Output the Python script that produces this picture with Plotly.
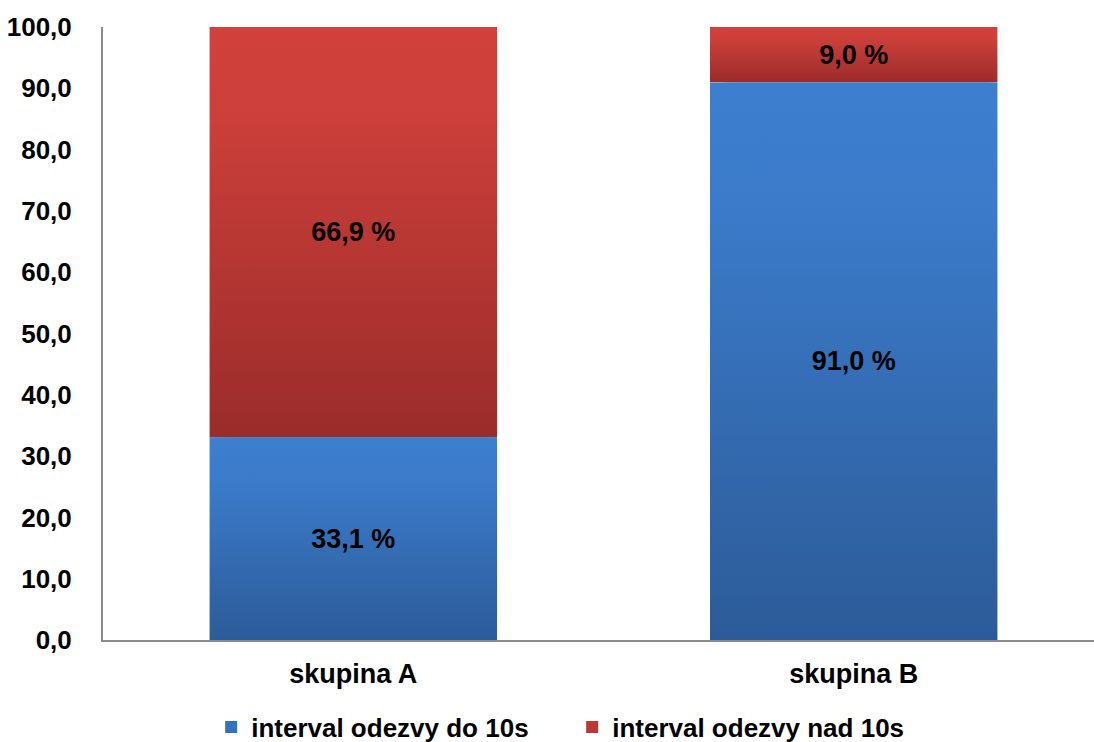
import base64
import plotly.graph_objects as go

# Data
categories = ["skupina A", "skupina B"]
series_names = ["interval odezvy do 10s", "interval odezvy nad 10s"]
do_10s = [33.1, 91.0]
nad_10s = [66.9, 9.0]
y_ticks = [0, 10, 20, 30, 40, 50, 60, 70, 80, 90, 100]

# Styling
BAR_WIDTH = 0.575
GRADIENTS = {
    "blue": [("0%", "#3e7ecf"), ("22%", "#3b7bca"), ("100%", "#2c5b98")],
    "red": [("0%", "#d2413c"), ("22%", "#cc3f3a"), ("100%", "#9a2c2a")],
}
SWATCH = {"blue": "#3572bd", "red": "#bb3834"}
FONT = "Liberation Sans, Arial, sans-serif"


def gradient_svg(stops):
    stop_tags = "".join(
        f'<stop offset="{o}" stop-color="{c}"/>' for o, c in stops
    )
    svg = (
        '<svg xmlns="http://www.w3.org/2000/svg" width="100" height="100" '
        'preserveAspectRatio="none" viewBox="0 0 100 100">'
        f'<defs><linearGradient id="g" x1="0" y1="0" x2="0" y2="1">{stop_tags}'
        '</linearGradient></defs>'
        '<rect x="0" y="0" width="100" height="100" fill="url(#g)"/></svg>'
    )
    return "data:image/svg+xml;base64," + base64.b64encode(svg.encode()).decode()


def shadow_svg():
    svg = (
        '<svg xmlns="http://www.w3.org/2000/svg" width="100" height="100" '
        'preserveAspectRatio="none" viewBox="0 0 100 100">'
        '<defs><filter id="b" x="-20%" y="-20%" width="140%" height="140%">'
        '<feGaussianBlur stdDeviation="1.2"/></filter></defs>'
        '<rect x="4" y="4" width="92" height="92" fill="rgba(0,0,0,0.28)" '
        'filter="url(#b)"/></svg>'
    )
    return "data:image/svg+xml;base64," + base64.b64encode(svg.encode()).decode()


fig = go.Figure()

series = [(series_names[0], do_10s, "blue"), (series_names[1], nad_10s, "red")]

# Bars (transparent fill; the gradient is painted underneath as layout images)
for name, values, key in series:
    fig.add_trace(
        go.Bar(
            x=categories,
            y=values,
            name=name,
            width=BAR_WIDTH,
            marker=dict(color="rgba(0,0,0,0)", line=dict(width=0)),
            texttemplate="%{y:.1f} %",
            textposition="inside",
            insidetextanchor="middle",
            textangle=0,
            textfont=dict(family=FONT, size=27, color="#000000", weight="bold"),
            showlegend=False,
            hoverinfo="skip",
        )
    )

# Legend entries
for name, values, key in series:
    fig.add_trace(
        go.Scatter(
            x=[None],
            y=[None],
            mode="markers",
            name=name,
            marker=dict(symbol="square", size=14, color=SWATCH[key]),
        )
    )

# Gradient fills and drop shadows positioned in data coordinates
images = []
for i, cat in enumerate(categories):
    total = do_10s[i] + nad_10s[i]
    images.append(
        dict(
            source=shadow_svg(),
            xref="x", yref="y",
            x=i - BAR_WIDTH / 2 + 0.006, y=total - 0.4,
            sizex=BAR_WIDTH + 0.008, sizey=total + 1.4,
            xanchor="left", yanchor="top",
            sizing="stretch", layer="below",
        )
    )
    base = 0.0
    for name, values, key in series:
        top = base + values[i]
        images.append(
            dict(
                source=gradient_svg(GRADIENTS[key]),
                xref="x", yref="y",
                x=i - BAR_WIDTH / 2, y=top,
                sizex=BAR_WIDTH, sizey=values[i],
                xanchor="left", yanchor="top",
                sizing="stretch", layer="below",
            )
        )
        base = top

fig.update_layout(
    images=images,
    barmode="stack",
    width=1094,
    height=742,
    margin=dict(l=103, r=0, t=27, b=102, autoexpand=False),
    paper_bgcolor="#ffffff",
    plot_bgcolor="rgba(0,0,0,0)",
    separators=", ",
    font=dict(family=FONT, size=26, color="#000000"),
    legend=dict(
        orientation="h",
        traceorder="normal",
        xref="container", yref="container",
        x=0.523, xanchor="center",
        y=0.02, yanchor="middle",
        font=dict(family=FONT, size=26, color="#000000", weight="bold"),
        itemsizing="constant",
        entrywidth=316,
        entrywidthmode="pixels",
        tracegroupgap=0,
    ),
    xaxis=dict(
        type="category",
        range=[-0.5, 1.48],
        showgrid=False,
        showline=True,
        linecolor="#8a8a8a",
        linewidth=2,
        ticks="",
        ticklabelstandoff=9,
        tickfont=dict(family=FONT, size=27, color="#000000", weight="bold"),
        zeroline=False,
    ),
    yaxis=dict(
        range=[0, 100],
        tickvals=y_ticks,
        tickformat=".1f",
        showgrid=False,
        showline=True,
        linecolor="#8a8a8a",
        linewidth=2,
        ticks="",
        ticklabelstandoff=24,
        tickfont=dict(family=FONT, size=26, color="#000000", weight="bold"),
        zeroline=False,
    ),
)

fig.write_html("out.html")
